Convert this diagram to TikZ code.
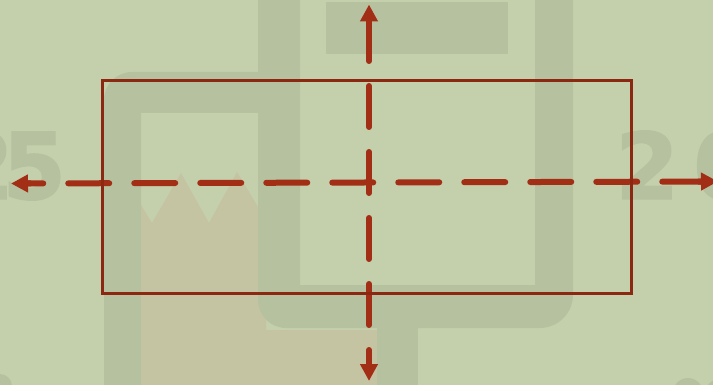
\documentclass[tikz,border=0pt]{standalone}
\usepackage{fontspec}
\usetikzlibrary{arrows.meta,calc}
\newfontfamily\digitfont{DejaVu Sans}[BoldFeatures={FakeBold=1.5}]

\definecolor{field}{HTML}{C4CFAC}
\definecolor{lane}{HTML}{B6C29F}
\definecolor{sand}{HTML}{C5C4A2}
\definecolor{marker}{HTML}{A22E16}
\definecolor{outline}{HTML}{8C2712}

\tikzset{
  lanefill/.style={fill=lane},
  digits/.style={inner sep=0pt, text=lane, font=\digitfont\bfseries\fontsize{92}{92}\selectfont},
  framebox/.style={draw=outline, line width=3pt, inner sep=0pt, fill=none},
  dashline/.style={draw=marker, line width=6pt, line cap=round, dash pattern=on 41pt off 25pt},
  tipline/.style={draw=marker, line width=6pt, -{Triangle[length=17pt,width=17pt]}},
}

\begin{document}
\begin{tikzpicture}[x=1pt,y=-1pt]
  % ground
  \fill[field] (0,0) rectangle (713,385);
  \useasboundingbox (0,0) rectangle (713,385);

  % sand patch with jagged top
  \fill[sand] (141,205) -- (152,223) -- (181,173) -- (209,223) -- (237,172)
    -- (266,220) -- (266,330) -- (377,330) -- (377,386) -- (141,386) -- cycle;

  % paths of the plan
  \fill[lanefill] (104,386) -- (104,100) .. controls (104,84.5) and (116.5,72) .. (132,72)
    -- (262,72) -- (262,113) -- (141,113) -- (141,386) -- cycle;
  \fill[lanefill] (258,-1) -- (258,300) .. controls (258,315.5) and (270.5,328) .. (286,328)
    -- (540,328) .. controls (558,328) and (573,313) .. (573,295)
    -- (573,-1) -- (535,-1) -- (535,285) -- (300,285) -- (300,-1) -- cycle;
  \fill[lanefill] (326,2) rectangle (508,54);
  \fill[lanefill] (377,320) rectangle (418,386);
  \fill[lanefill] (0,386) circle (12);
  \fill[lanefill] (688,393) circle (15);
  \fill[lanefill] (720,394) circle (15);

  % large faint labels
  \node[digits, anchor=base west] (leftnum) at (-50,199) {2\kern-12pt5};
  \node[digits, anchor=base west] (rightnum) at (615,199) {2\kern14pt0};

  % axis ends
  \coordinate (hL) at (11,183.5);
  \coordinate (hR) at (718,181.5);
  \coordinate (vT) at (369,4.5);
  \coordinate (vB) at (369,381);

  % dashed axes
  \draw[dashline, dash phase=25.75pt] ($(hL)!17pt!(hR)$) -- ($(hR)!17pt!(hL)$);
  \draw[dashline, dash phase=1.5pt] ($(vT)!17pt!(vB)$) -- ($(vB)!17pt!(vT)$);
  \draw[tipline] ($(hL)!20pt!(hR)$) -- (hL);
  \draw[tipline] ($(hR)!20pt!(hL)$) -- (hR);
  \draw[tipline] ($(vT)!20pt!(vB)$) -- (vT);
  \draw[tipline] ($(vB)!20pt!(vT)$) -- (vB);

  % outline box
  \node[framebox, minimum width=529pt, minimum height=213pt] (box) at (367,187) {};
\end{tikzpicture}
\end{document}
